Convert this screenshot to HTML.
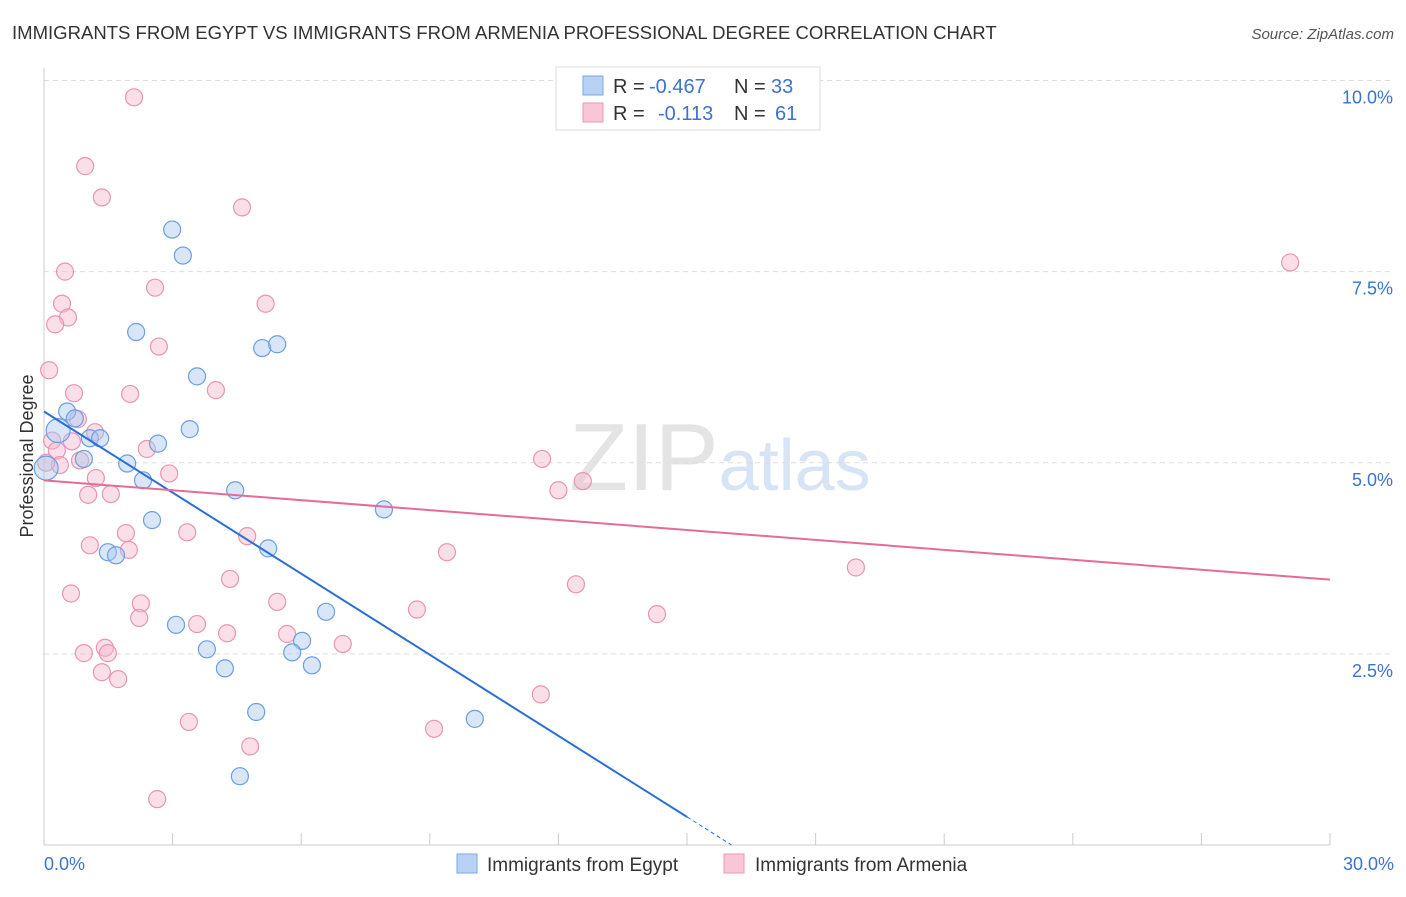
<!DOCTYPE html>
<html><head><meta charset="utf-8"><style>
body{margin:0;background:#fff;font-family:"Liberation Sans",sans-serif;}
svg text{font-family:"Liberation Sans",sans-serif;}
</style></head><body>
<svg id="chart" width="1406" height="892" xmlns="http://www.w3.org/2000/svg">
<text x="12" y="39" font-size="18.55" fill="#333">IMMIGRANTS FROM EGYPT VS IMMIGRANTS FROM ARMENIA PROFESSIONAL DEGREE CORRELATION CHART</text>
<text x="1394" y="39" font-size="15" fill="#555" text-anchor="end" font-style="italic">Source: ZipAtlas.com</text>
<text x="720" y="490" font-size="96" text-anchor="middle" fill="#e4e4e4" font-family="Liberation Serif"><tspan>ZIP</tspan><tspan fill="#d6e4f5" font-family="Liberation Sans" font-size="72">atlas</tspan></text>
<text transform="translate(33,456) rotate(-90)" font-size="18" fill="#333" text-anchor="middle">Professional Degree</text>
<g id="grid"></g><g id="axes"></g><g id="marks"></g>
<g>
<rect x="556" y="67" width="264" height="63" fill="#fff" stroke="#ddd"/>
<rect x="583" y="76" width="20" height="19" fill="#b8d2f5" stroke="#7aa8e6"/>
<rect x="583" y="103" width="20" height="19" fill="#f8c6d6" stroke="#ec9ab8"/>
<text x="613" y="93" font-size="20" fill="#333">R =</text>
<text x="649" y="93" font-size="20" fill="#3b73d1">-0.467</text>
<text x="734" y="93" font-size="20" fill="#333">N =</text>
<text x="771" y="93" font-size="20" fill="#3b73d1">33</text>
<text x="613" y="120" font-size="20" fill="#333">R =</text>
<text x="658" y="120" font-size="20" fill="#3b73d1">-0.113</text>
<text x="734" y="120" font-size="20" fill="#333">N =</text>
<text x="775" y="120" font-size="20" fill="#3b73d1">61</text>
</g>
<g>
<rect x="457" y="854" width="20" height="19" fill="#b8d2f5" stroke="#7aa8e6"/>
<text x="487" y="871" font-size="19" fill="#333">Immigrants from Egypt</text>
<rect x="724" y="854" width="20" height="19" fill="#f8c6d6" stroke="#ec9ab8"/>
<text x="755" y="871" font-size="19" fill="#333">Immigrants from Armenia</text>
</g>
</svg>
<script>
const yTicks=[2.5,5.0,7.5,10.0];
const yTickLabels=["2.5%","5.0%","7.5%","10.0%"];
const xTickLabels=["0.0%","30.0%"];
const egyptX=[0.54,0.33,0.72,1.07,1.31,0.93,1.94,2.31,2.66,2.15,2.99,3.24,3.57,3.40,4.46,5.09,5.44,2.52,1.49,1.68,5.23,7.93,3.08,3.80,4.22,6.02,5.79,6.25,6.58,4.95,4.57,10.05,0.05];
const egyptY=[5.67,5.42,5.58,5.32,5.32,5.05,4.99,4.77,5.25,6.71,8.05,7.71,6.13,5.44,4.64,6.50,6.55,4.25,3.83,3.79,3.88,4.39,2.88,2.56,2.31,2.67,2.52,2.35,3.05,1.74,0.90,1.65,4.93];
const armX=[2.10,0.96,1.35,4.62,0.49,0.42,2.59,5.17,0.56,0.26,2.68,0.12,0.70,2.01,4.01,0.79,0.19,0.30,0.65,1.19,0.84,0.37,2.40,2.92,1.21,1.03,1.56,11.62,12.0,12.57,29.07,1.91,3.34,4.74,1.07,1.98,9.40,18.94,12.41,4.34,0.63,2.26,5.44,8.70,14.30,2.22,3.57,4.27,5.67,6.97,1.42,0.93,1.49,1.35,1.73,11.59,3.38,9.10,4.81,2.64,0.05];
const armY=[9.78,8.88,8.47,8.34,7.50,7.08,7.29,7.08,6.90,6.81,6.52,6.21,5.91,5.90,5.95,5.57,5.29,5.16,5.28,5.40,5.03,4.97,5.18,4.86,4.80,4.58,4.59,5.05,4.64,4.76,7.62,4.08,4.09,4.04,3.92,3.86,3.83,3.63,3.41,3.48,3.29,3.16,3.18,3.08,3.02,2.97,2.89,2.77,2.76,2.63,2.58,2.51,2.51,2.26,2.17,1.97,1.61,1.52,1.29,0.60,5.0];
const egyptTrend=[5.67,-0.3535];
const armTrend=[4.77,-0.0433];
const X0=44,X1=1330,Y0=845,PX=(X1-X0)/30,PY=76.45;
const sx=v=>X0+v*PX, sy=v=>Y0-v*PY;
const NS="http://www.w3.org/2000/svg";
function mk(tag,attrs,parent){const e=document.createElementNS(NS,tag);for(const k in attrs)e.setAttribute(k,attrs[k]);document.getElementById(parent).appendChild(e);return e;}
yTicks.forEach((t,i)=>{
 const l=mk('line',{x1:X0,x2:1394,y1:sy(t),y2:sy(t),stroke:'#ddd','stroke-dasharray':'5,4'},'grid');
 
 
 const tx=mk('text',{x:1393,y:sy(t)+23,'font-size':18,fill:'#3b73d1','text-anchor':'end'},'axes');
 tx.textContent=yTickLabels[i];
 
 
});
const ax=mk('line',{x1:X0,x2:X1,y1:Y0,y2:Y0,stroke:'#ccc'},'axes');


const ay=mk('line',{x1:X0,x2:X0,y1:68,y2:Y0,stroke:'#ccc'},'axes');


for(let i=1;i<=10;i++){const t=mk('line',{x1:sx(i*3),x2:sx(i*3),y1:Y0-12,y2:Y0,stroke:'#ccc'},'axes');
 
 }
[[0,'start',44],[30,'end',1394]].forEach((d,i)=>{const t=mk('text',{x:d[2],y:870,'font-size':18,fill:'#3b73d1','text-anchor':d[1]},'axes');t.textContent=xTickLabels[i];
 
 });
function dots(xs,ys,fill,stroke,name,big){xs.forEach((x,i)=>{const r=(big&&x<0.4)?12:8.5;const c=mk('circle',{cx:sx(x),cy:sy(ys[i]),r:r,fill:fill,'fill-opacity':0.45,stroke:stroke,'stroke-width':1.2},'marks');
 
 });}
dots(armX,armY,'#f5b8cc','#e994b4','armenia-point',false);
dots(egyptX,egyptY,'#a8c8f0','#6b9fe0','egypt-point',true);
const xe=(0.366-egyptTrend[0])/egyptTrend[1];
const bl=mk('line',{x1:sx(0),y1:sy(egyptTrend[0]),x2:sx(xe),y2:sy(0.366),stroke:'#2b6fd6','stroke-width':2},'marks');


const bd=mk('line',{x1:sx(xe),y1:sy(0.366),x2:sx(-egyptTrend[0]/egyptTrend[1]),y2:sy(0),stroke:'#2b6fd6','stroke-width':1,'stroke-dasharray':'4,3'},'marks');


const pl=mk('line',{x1:sx(0),y1:sy(armTrend[0]),x2:sx(30),y2:sy(armTrend[0]+30*armTrend[1]),stroke:'#e56b98','stroke-width':2},'marks');


</script>
</body></html>
